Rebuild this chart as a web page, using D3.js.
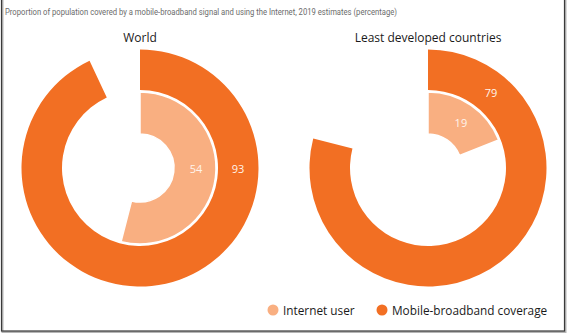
<!DOCTYPE html>
<html>
<head>
<meta charset="utf-8">
<script src="https://cdn.jsdelivr.net/npm/d3@7"></script>
<style>
  html, body { margin: 0; padding: 0; background: #fff; }
  svg { display: block; }
</style>
</head>
<body>
<svg id="chart" width="567" height="333"></svg>
<script>
// Regions and their 2019 estimates (percentage of population)
const regions = ["World", "Least developed countries"];
const internetUser = [54, 19];
const mobileCoverage = [93, 79];
const seriesNames = ["Internet user", "Mobile-broadband coverage"];
const subtitle = "Proportion of population covered by a mobile-broadband signal and using the Internet, 2019 estimates (percentage)";

const colors = { internet: "#F9AF81", mobile: "#F26F23" };

const svg = d3.select("#chart");

// Frame with a soft drop shadow on the right and bottom edges
svg.append("rect")
  .attr("x", 2.5).attr("y", -3).attr("width", 563).attr("height", 335)
  .attr("fill", "none").attr("stroke", "#b5b5b5").attr("stroke-width", 2);
svg.append("rect")
  .attr("x", 1.5).attr("y", -4).attr("width", 563).attr("height", 335)
  .attr("fill", "none").attr("stroke", "#3a3a3a").attr("stroke-width", 1.2);

svg.append("text")
  .attr("x", 5).attr("y", 15)
  .attr("font-family", "Roboto, 'Liberation Sans', sans-serif")
  .attr("font-size", 8.6)
  .attr("fill", "#6b6b6b")
  .attr("textLength", 392)
  .attr("lengthAdjust", "spacingAndGlyphs")
  .text(subtitle);

// Layout of the two donut panels
const panelX = d3.scaleOrdinal().domain(regions).range([140, 428]);
const centerY = 168;
const labelDeg = { "World": [90, 90], "Least developed countries": [36, 40] };

const angle = d3.scaleLinear().domain([0, 100]).range([0, 2 * Math.PI]);

const innerArc = d3.arc().innerRadius(34).outerRadius(76);
const outerArc = d3.arc().innerRadius(78).outerRadius(118.5);

regions.forEach((name, i) => {
  const g = svg.append("g").attr("transform", `translate(${panelX(name)},${centerY})`);

  g.append("text")
    .attr("x", 0).attr("y", -126)
    .attr("text-anchor", "middle")
    .attr("font-family", "'Open Sans', 'Noto Sans', sans-serif")
    .attr("font-size", 12)
    .attr("fill", "#1a1a1a")
    .text(name);

  g.append("path")
    .attr("d", outerArc({ startAngle: 0, endAngle: angle(mobileCoverage[i]) }))
    .attr("fill", colors.mobile);

  g.append("path")
    .attr("d", innerArc({ startAngle: 0, endAngle: angle(internetUser[i]) }))
    .attr("fill", colors.internet)
    .attr("stroke", "#fff").attr("stroke-width", 1.5);

  const [aIn, aOut] = labelDeg[name].map(d => d * Math.PI / 180);
  const labels = [
    { v: internetUser[i], a: aIn, r: 56 },
    { v: mobileCoverage[i], a: aOut, r: 98 }
  ];
  g.selectAll("text.val").data(labels).enter().append("text")
    .attr("class", "val")
    .attr("x", d => d.r * Math.sin(d.a))
    .attr("y", d => -d.r * Math.cos(d.a))
    .attr("text-anchor", "middle")
    .attr("dominant-baseline", "central")
    .attr("font-family", "'Open Sans', 'Noto Sans', sans-serif")
    .attr("font-size", 11)
    .attr("fill", "#fff4ec")
    .text(d => d.v);
});

// Legend
const legend = [
  { name: seriesNames[0], color: colors.internet, x: 273 },
  { name: seriesNames[1], color: colors.mobile, x: 382 }
];
const lg = svg.selectAll("g.legend").data(legend).enter().append("g")
  .attr("class", "legend")
  .attr("transform", d => `translate(${d.x},310)`);
lg.append("circle").attr("r", 5.5).attr("fill", d => d.color);
lg.append("text")
  .attr("x", 10).attr("y", 0)
  .attr("dominant-baseline", "central")
  .attr("font-family", "'Open Sans', 'Noto Sans', sans-serif")
  .attr("font-size", 11.8)
  .attr("fill", "#1a1a1a")
  .text(d => d.name);
</script>
</body>
</html>
